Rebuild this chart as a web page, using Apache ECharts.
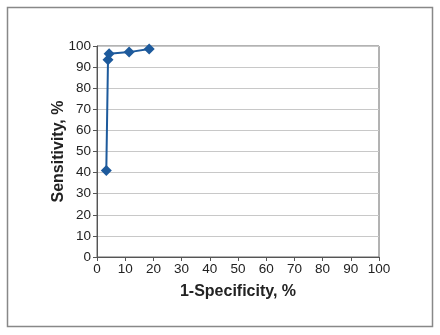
<!DOCTYPE html>
<html><head><meta charset="utf-8">
<script src="https://cdn.jsdelivr.net/npm/echarts@6/dist/echarts.min.js"></script>
<style>html,body{margin:0;padding:0;background:#fff}#c{width:440px;height:335px}</style>
</head><body><div id="c"></div>
<script>
const xValues = [3.3, 3.9, 4.3, 11.4, 18.5];
const yValues = [41, 93.5, 96.3, 97.1, 98.6];
const xTitle = '1-Specificity, %';
const yTitle = 'Sensitivity, %';

const chart = echarts.init(document.getElementById('c'));
const font = "'Liberation Sans', Arial, sans-serif";
chart.setOption({
  animation: false,
  graphic: [{type:'rect', shape:{x:7.5,y:7.5,width:425,height:319}, style:{fill:'none', stroke:'#888', lineWidth:1.5}}],
  grid: {left:97, right:61, top:46, bottom:78, show:true, borderColor:'#666', borderWidth:1},
  xAxis: {type:'value', min:0, max:100, interval:10, name:xTitle, nameLocation:'middle', nameGap:27, nameMoveOverlap:false,
    nameTextStyle:{fontFamily:font, fontSize:16, fontWeight:'bold', color:'#222'},
    axisLine:{lineStyle:{color:'#555'}}, axisTick:{show:true, length:4, lineStyle:{color:'#555'}},
    axisLabel:{fontFamily:font, fontSize:13.5, color:'#222', margin:5}, splitLine:{show:false}},
  yAxis: {type:'value', min:0, max:100, interval:10, name:yTitle, nameLocation:'middle', nameGap:30, nameMoveOverlap:false,
    nameTextStyle:{fontFamily:font, fontSize:16, fontWeight:'bold', color:'#222'},
    axisLine:{show:true, lineStyle:{color:'#555'}}, axisTick:{show:true, length:4, lineStyle:{color:'#555'}},
    axisLabel:{fontFamily:font, fontSize:13.5, color:'#222', margin:6}, splitLine:{show:true, lineStyle:{color:'#c8c8c8'}}},
  series: [{type:'line', data: xValues.map((x,i)=>[x, yValues[i]]), symbol:'diamond', symbolSize:11,
    lineStyle:{color:'#1d5a9c', width:2}, itemStyle:{color:'#1d5a9c'}}]
});
</script></body></html>
